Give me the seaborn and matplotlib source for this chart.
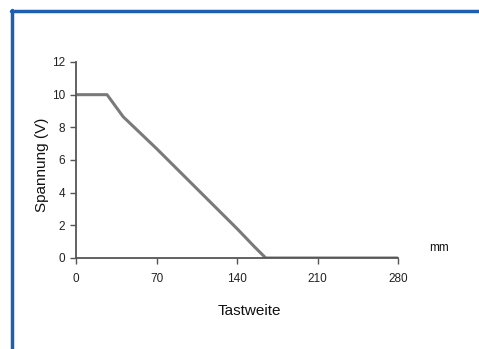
import matplotlib
matplotlib.use("Agg")
import matplotlib.pyplot as plt
import seaborn as sns
import pandas as pd
from matplotlib.lines import Line2D

distance_mm = [0, 27, 41, 70, 100, 140, 155, 165, 280]
voltage_v = [10, 10, 8.65, 6.7, 4.6, 1.8, 0.7, 0, 0]
x_ticks = [0, 70, 140, 210, 280]
y_ticks = [0, 2, 4, 6, 8, 10, 12]

sns.set_theme(style="white")
plt.rcParams['font.family'] = ['Liberation Sans', 'DejaVu Sans']

W, H = 479, 349
fig = plt.figure(figsize=(W / 100, H / 100), dpi=100)
ax = fig.add_axes([76 / W, 1 - 258 / H, (398 - 76) / W, (258 - 62) / H])

df = pd.DataFrame({"x": distance_mm, "y": voltage_v})
sns.lineplot(data=df, x="x", y="y", ax=ax, color="#7a7a7a", linewidth=2.2)

ax.set_xlim(0, 280)
ax.set_ylim(0, 12)
ax.set_xticks(x_ticks)
ax.set_yticks(y_ticks)
ax.tick_params(axis="both", labelsize=8.5, labelcolor="#222222", color="#555555",
               length=4, width=1, direction="out", bottom=True, left=True)
ax.tick_params(axis="x", pad=7)
ax.tick_params(axis="y", pad=4)
sns.despine(ax=ax)
for s in ["left", "bottom"]:
    ax.spines[s].set_color("#555555")
    ax.spines[s].set_linewidth(1.3)
ax.set_xlabel("")
ax.set_ylabel("")

fig.text(249 / W, 1 - 311 / H, "Tastweite", ha="center", va="center", fontsize=11, color="#111111")
fig.text(42 / W, 1 - 165 / H, "Spannung (V)", ha="center", va="center", rotation=90,
         fontsize=11, color="#111111")
fig.text(439 / W, 1 - 248 / H, "mm", ha="center", va="center", fontsize=8.5, color="#111111")

# blue frame
blue = "#1f5fb0"
fig.add_artist(Line2D([11 / W, 1.0], [1 - 11 / H, 1 - 11 / H], transform=fig.transFigure,
                      color=blue, linewidth=2.5))
fig.add_artist(Line2D([11.5 / W, 11.5 / W], [0.0, 1 - 10 / H], transform=fig.transFigure,
                      color=blue, linewidth=2.5))

fig.savefig("out.png", dpi=100)
